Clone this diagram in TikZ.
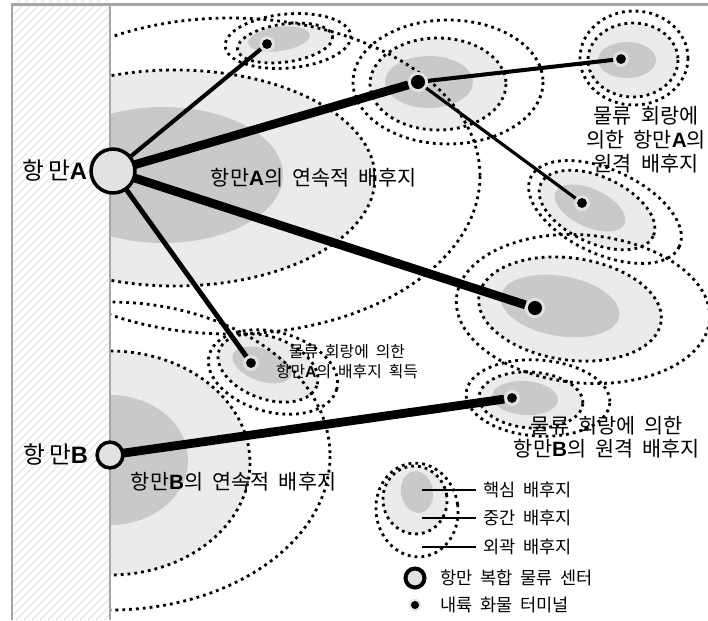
\documentclass[tikz,border=0pt]{standalone}
\usepackage{fontspec}
\setmainfont[WordSpace=2]{Noto Sans CJK KR}
\newfontfamily\latinfont{Liberation Sans}
\newcommand*{\pA}{{\latinfont\bfseries A}}
\newcommand*{\pB}{{\latinfont\bfseries B}}
\newcommand*{\portfont}{\fontsize{13.5}{15}\selectfont}
\newcommand*{\zonefont}{\fontsize{11.8}{13.6}\selectfont}
\newcommand*{\keyfont}{\fontsize{10}{12}\selectfont}
\newcommand*{\smallfont}{\fontsize{9}{11.3}\selectfont}
\definecolor{core}{cmyk}{0.00,0.00,0.00,0.24}
\definecolor{zone}{cmyk}{0.00,0.00,0.00,0.09}
\definecolor{halo}{cmyk}{0.00,0.00,0.00,0.13}
\definecolor{frame}{cmyk}{0.00,0.00,0.00,0.40}
\definecolor{hatch}{cmyk}{0.00,0.00,0.00,0.15}
\usepackage{tikz}
\usetikzlibrary{positioning}
\tikzstyle{base}=[x=0.02cm, y=-0.02cm, inner sep=0pt, outer sep=0pt]
\tikzstyle{ring}=[black, line width=1.6pt, dash pattern=on 1.6pt off 2.3pt]
\tikzstyle{port}=[circle, draw=black, fill=halo, line width=2pt]
\tikzstyle{term}=[circle, fill=halo, minimum size=9pt, path picture={\fill[black] (path picture bounding box.center) circle (2.8pt);}]
\tikzstyle{bigterm}=[circle, fill=halo, minimum size=11.5pt, path picture={\fill[black] (path picture bounding box.center) circle (4pt);}]
\tikzstyle{key}=[anchor=west, inner sep=4pt, font=\keyfont]

\begin{document}
\begin{tikzpicture}[base]
    \useasboundingbox (0,0) rectangle (708,620);
    % hinterland zones
    \fill[zone] (175,178) ellipse [x radius=200, y radius=108];
    \fill[zone] (110,463) ellipse [x radius=140, y radius=112];
    \fill[zone, rotate around={8:(285,43)}] (285,43) ellipse [x radius=48, y radius=19];
    \fill[zone] (438,84) ellipse [x radius=68, y radius=46];
    \fill[zone] (633,60) ellipse [x radius=45, y radius=37];
    \fill[zone, rotate around={-25:(597,210)}] (597,210) ellipse [x radius=62, y radius=33];
    \fill[zone, rotate around={-8:(570,309)}] (570,309) ellipse [x radius=92, y radius=51];
    \fill[zone, rotate around={-20:(268,368)}] (268,368) ellipse [x radius=52, y radius=31];
    \fill[zone, rotate around={-4:(531,400)}] (531,400) ellipse [x radius=52, y radius=28];
    \fill[zone, rotate around={10:(415,500)}] (415,500) ellipse [x radius=32, y radius=34];
    % cores
    \fill[core] (163,175) ellipse [x radius=120, y radius=68];
    \fill[core] (110,460) ellipse [x radius=78, y radius=65];
    \fill[core, rotate around={8:(279,39)}] (279,39) ellipse [x radius=31, y radius=12];
    \fill[core] (429,82) ellipse [x radius=44, y radius=26];
    \fill[core] (627,60) ellipse [x radius=29, y radius=18];
    \fill[core, rotate around={-25:(590,208)}] (590,208) ellipse [x radius=38, y radius=19];
    \fill[core, rotate around={-10:(560,306)}] (560,306) ellipse [x radius=60, y radius=30];
    \fill[core, rotate around={-20:(262,365)}] (262,365) ellipse [x radius=31, y radius=16];
    \fill[core, rotate around={-4:(525,398)}] (525,398) ellipse [x radius=33, y radius=17];
    \fill[core, rotate around={10:(417,492)}] (417,492) ellipse [x radius=16, y radius=21];
    % dotted borders
    \draw[ring] (175,178) ellipse [x radius=200, y radius=108];
    \draw[ring] (230,176) ellipse [x radius=250, y radius=158];
    \draw[ring] (110,463) ellipse [x radius=140, y radius=112];
    \draw[ring] (110,456) ellipse [x radius=220, y radius=154];
    \draw[ring, rotate around={8:(285,43)}] (285,43) ellipse [x radius=48, y radius=19];
    \draw[ring, rotate around={5:(288,41)}] (288,41) ellipse [x radius=63, y radius=27];
    \draw[ring] (438,84) ellipse [x radius=68, y radius=46];
    \draw[ring] (448,82) ellipse [x radius=95, y radius=62];
    \draw[ring] (633,60) ellipse [x radius=45, y radius=37];
    \draw[ring] (634,58) ellipse [x radius=54, y radius=47];
    \draw[ring, rotate around={-25:(597,210)}] (597,210) ellipse [x radius=62, y radius=33];
    \draw[ring, rotate around={-25:(605,212)}] (605,212) ellipse [x radius=82, y radius=42];
    \draw[ring, rotate around={-8:(570,309)}] (570,309) ellipse [x radius=92, y radius=51];
    \draw[ring, rotate around={-5:(583,309)}] (583,309) ellipse [x radius=127, y radius=74];
    \draw[ring, rotate around={-20:(268,368)}] (268,368) ellipse [x radius=52, y radius=31];
    \draw[ring, rotate around={-15:(273,372)}] (273,372) ellipse [x radius=66, y radius=40];
    \draw[ring, rotate around={-4:(531,400)}] (531,400) ellipse [x radius=52, y radius=28];
    \draw[ring, rotate around={-4:(538,398)}] (538,398) ellipse [x radius=72, y radius=38];
    \draw[ring, rotate around={10:(415,500)}] (415,500) ellipse [x radius=32, y radius=34];
    \draw[ring, rotate around={8:(417,510)}] (417,510) ellipse [x radius=41, y radius=47];
    % coast strip
    \fill[white] (0,0) rectangle (110,620);
    \begin{scope}
        \clip (12,0) rectangle (110,620);
        \foreach \k in {-616,-608,...,112}
            \draw[hatch, line width=0.5pt] (\k,620) -- ++(620,-620);
    \end{scope}
    \draw[frame, line width=1.7pt] (12,620) -- (12,4) -- (708,4);
    \draw[frame, line width=1.7pt] (110,4) -- (110,620);
    % labels
    \node[anchor=west, font=\zonefont] (lzA) at (211,178) {항만\pA 의 연속적 배후지};
    \node[anchor=west, font=\zonefont] (lzB) at (131,482) {항만\pB 의 연속적 배후지};
    \node[align=center, font=\zonefont] (l3) at (646,140) {물류 회랑에\\의한 항만\pA 의\\원격 배후지};
    \node[align=center, font=\smallfont] (l6) at (347,362) {물류 회랑에 의한\\항만\pA 의 배후지 획득};
    \node[align=center, font=\fontsize{11.8}{13}\selectfont] (l7) at (607,437) {물류 회랑에 의한\\항만\pB 의 원격 배후지};
    % ports and terminals
    \node[port, minimum size=25pt] (pA) at (113,171) {};
    \node[port, minimum size=14.7pt] (pB) at (110,455) {};
    \node[anchor=east, font=\portfont] (lA) at (87,171) {항\hspace{2pt}만\pA};
    \node[anchor=east, font=\portfont] (lB) at (88,455) {항\hspace{2pt}만\pB};
    \node[term] (t1) at (267,44) {};
    \node[bigterm] (t2) at (418,82) {};
    \node[term] (t3) at (621,59) {};
    \node[term] (t4) at (582,203) {};
    \node[bigterm] (t5) at (535,308) {};
    \node[term] (t6) at (251,363) {};
    \node[term] (t7) at (512,398) {};
    % corridors
    \draw[line width=2.3pt] (pA) -- (t1);
    \draw[line width=5pt] (pA) -- (t2);
    \draw[line width=5pt] (pA) -- (t5);
    \draw[line width=2.8pt] (pA) -- (t6);
    \draw[line width=2.3pt] (t2) -- (t3);
    \draw[line width=1.8pt] (t2) -- (t4);
    \draw[line width=5pt] (pB) -- (t7);
    % legend
    \coordinate (k1) at (422,490);
    \coordinate (k2) at (422,518);
    \coordinate (k3) at (422,547);
    \node[key] (lk1) at (476,490) {핵심 배후지};
    \node[key] (lk2) at (476,518) {중간 배후지};
    \node[key] (lk3) at (476,547) {외곽 배후지};
    \draw[line width=1.1pt] (k1) -- (lk1);
    \draw[line width=1.1pt] (k2) -- (lk2);
    \draw[line width=1.1pt] (k3) -- (lk3);
    \node[port, minimum size=10.8pt, line width=2.3pt] (kp) at (415,578) {};
    \node[key] (lkp) at (433,578) {항만 복합 물류 센터};
    \node[term, minimum size=7pt, path picture={\fill[black] (path picture bounding box.center) circle (2.3pt);}] (kt) at (415,605) {};
    \node[key] (lkt) at (433,605) {내륙 화물 터미널};
\end{tikzpicture}
\end{document}
